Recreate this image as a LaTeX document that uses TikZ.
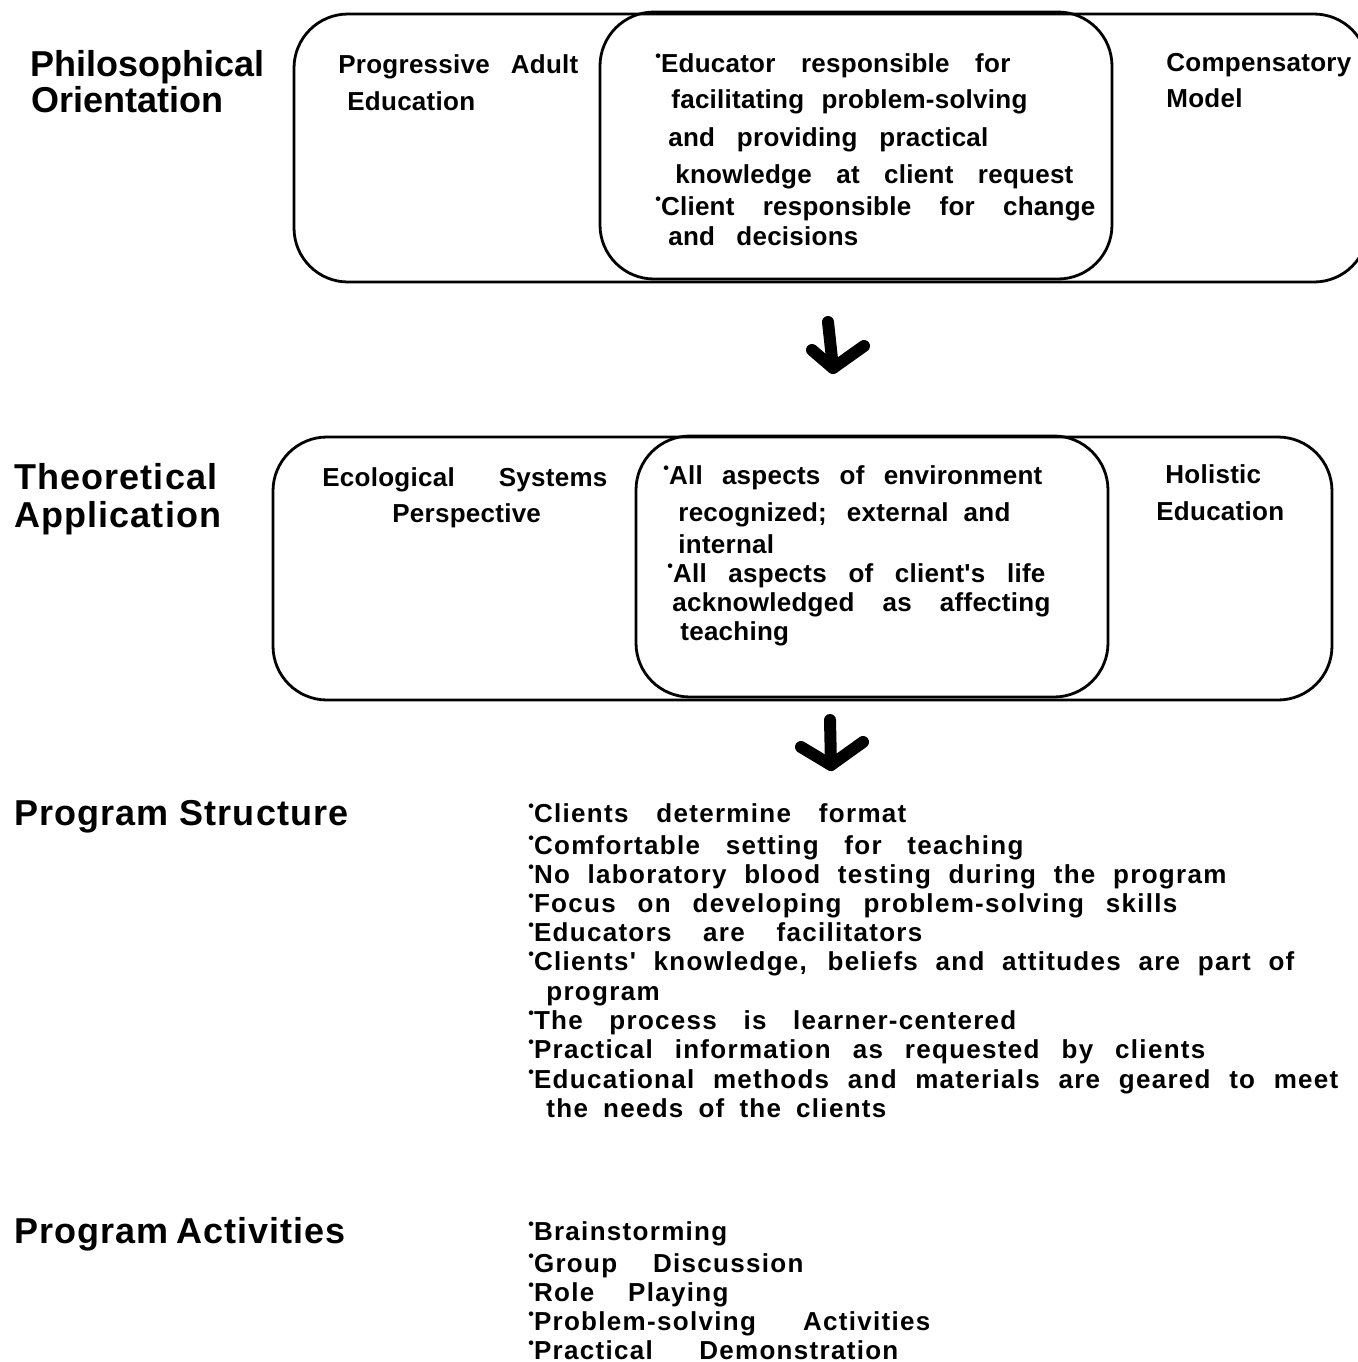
\documentclass[tikz,border=0pt]{standalone}
\usepackage{fontspec}
\usepackage{graphicx}
\setmainfont{Liberation Sans}
\newfontfamily\headfont[LetterSpace=3]{Liberation Sans}
\newfontfamily\headfontA{Liberation Sans}
\newfontfamily\boxfont[LetterSpace=1]{Liberation Sans}
\newfontfamily\listfont[LetterSpace=5]{Liberation Sans}
\newcommand\lin[2]{\hbox to \dimexpr#1pt/2\relax{\spaceskip=.2em plus 1fill\relax#2}}
\newcommand\bl{\raisebox{0.42em}{\fontsize{8}{8}\selectfont\textbullet}}
\tikzset{
  head/.style={anchor=base west,inner sep=0pt,font=\headfont\bfseries\fontsize{18}{20}\selectfont},
  headA/.style={anchor=base west,inner sep=0pt,font=\headfontA\bfseries\fontsize{18}{20}\selectfont},
  body/.style={anchor=base west,inner sep=0pt,font=\boxfont\bfseries\fontsize{13}{15}\selectfont},
  item/.style={anchor=base west,inner sep=0pt,font=\listfont\bfseries\fontsize{13}{15}\selectfont},
  frame/.style={draw,line width=1.4pt,rounded corners=27pt,inner sep=0pt},
  arw/.style={line width=6pt,line cap=round,line join=round},
}
\begin{document}
\begin{tikzpicture}[x=0.5pt,y=-0.5pt]
\useasboundingbox (0,0) rectangle (1357,1362);
% boxes
\node[frame,minimum width=537pt,minimum height=134pt] (pOuter) at (831,148) {};
\node[frame,minimum width=256pt,minimum height=133.5pt] (pInner) at (856,145.5) {};
\node[frame,minimum width=529.5pt,minimum height=131.5pt] (tOuter) at (802.5,568.5) {};
\node[frame,minimum width=236pt,minimum height=130.5pt] (tInner) at (872,566.5) {};
% headings
\node[headA] (h1a) at (30,76) {Philosophical};
\node[headA] (h1b) at (31,112) {Orientation};
\node[head] (h2a) at (14,489) {Theoretical};
\node[head] (h2b) at (14,527) {Application};
\node[head] (h3) at (14,825) {\lin{334}{Program Structure}};
\node[head] (h4) at (14,1243) {\lin{330}{Program Activities}};
% top row
\node[body] (pa1) at (338,73) {\lin{240}{Progressive Adult}};
\node[body] (pa2) at (347,110) {Education};
\node[body] (pc1) at (655,72) {\lin{355}{\bl Educator responsible for}};
\node[body] (pc2) at (671,108) {\lin{356}{facilitating problem-solving}};
\node[body] (pc3) at (668,146) {\lin{320}{and providing practical}};
\node[body] (pc4) at (675,183) {\lin{398}{knowledge at client request}};
\node[body] (pc5) at (655,215) {\lin{440}{\bl Client responsible for change}};
\node[body] (pc6) at (668,245) {\lin{190}{and decisions}};
\node[body] (pr1) at (1166,71) {Compensatory};
\node[body] (pr2) at (1166,107) {Model};
% middle row
\node[body] (ta1) at (322,486) {\lin{285}{Ecological Systems}};
\node[body] (ta2) at (392,522) {Perspective};
\node[body] (tc1) at (663,484) {\lin{379}{\bl All aspects of environment}};
\node[body] (tc2) at (678,521) {\lin{332}{recognized; external and}};
\node[body] (tc3) at (678,553) {internal};
\node[body] (tc4) at (667,582) {\lin{378}{\bl All aspects of client's life}};
\node[body] (tc5) at (672,611) {\lin{378}{acknowledged as affecting}};
\node[body] (tc6) at (680,640) {teaching};
\node[body] (tr1) at (1165,483) {Holistic};
\node[body] (tr2) at (1156,520) {Education};
% arrows
\coordinate (a1s) at (828,322);
\coordinate (a1t) at (833,368);
\coordinate (a1l) at (812,350);
\coordinate (a1r) at (864,346);
\draw[arw] (a1s) -- (a1t);
\draw[arw] (a1l) -- (a1t) -- (a1r);
\coordinate (a2s) at (830,720);
\coordinate (a2t) at (831,765);
\coordinate (a2l) at (801,747);
\coordinate (a2r) at (863,742);
\draw[arw] (a2s) -- (a2t);
\draw[arw] (a2l) -- (a2t) -- (a2r);
% program structure
\node[item] (s1) at (528,822) {\lin{378}{\bl Clients determine format}};
\node[item] (s2) at (528,854) {\lin{495}{\bl Comfortable setting for teaching}};
\node[item] (s3) at (528,883) {\lin{698}{\bl No laboratory blood testing during the program}};
\node[item] (s4) at (528,912) {\lin{649}{\bl Focus on developing problem-solving skills}};
\node[item] (s5) at (528,941) {\lin{394}{\bl Educators are facilitators}};
\node[item] (s6) at (528,970) {\lin{766}{\bl Clients' knowledge, beliefs and attitudes are part of}};
\node[item] (s7) at (546,1000) {program};
\node[item] (s8) at (528,1029) {\lin{488}{\bl The process is learner-centered}};
\node[item] (s9) at (528,1058) {\lin{677}{\bl Practical information as requested by clients}};
\node[item] (s10) at (528,1088) {\lin{810}{\bl Educational methods and materials are geared to meet}};
\node[item] (s11) at (546,1117) {\lin{340}{the needs of the clients}};
% program activities
\node[item] (v1) at (528,1240) {\bl Brainstorming};
\node[item] (v2) at (528,1272) {\lin{275}{\bl Group Discussion}};
\node[item] (v3) at (528,1301) {\lin{200}{\bl Role Playing}};
\node[item] (v4) at (528,1330) {\lin{402}{\bl Problem-solving Activities}};
\node[item] (v5) at (528,1359) {\lin{370}{\bl Practical Demonstration}};
\end{tikzpicture}
\end{document}
